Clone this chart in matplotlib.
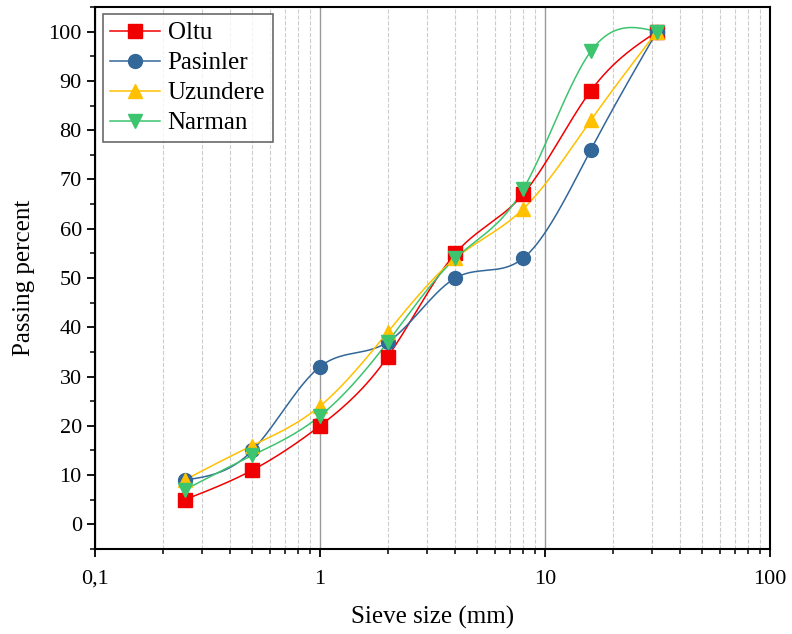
import numpy as np
import matplotlib.pyplot as plt
from matplotlib.ticker import FuncFormatter, MultipleLocator, LogLocator, NullFormatter

# sieve sizes (mm) and passing percent per site
sieve = [0.25, 0.5, 1, 2, 4, 8, 16, 31.5]
oltu = [5, 11, 20, 34, 55, 67, 88, 100]
pasinler = [9, 15, 32, 37, 50, 54, 76, 100]
uzundere = [9, 16, 24, 39, 54, 64, 82, 100]
narman = [7, 14, 22, 37, 54, 68, 96, 100]

names = ['Oltu', 'Pasinler', 'Uzundere', 'Narman']
colors = ['#f00000', '#336699', '#ffc000', '#3cc46e']
markers = ['s', 'o', '^', 'v']


def natural_spline(x, y, n=300):
    # natural cubic spline through the points (x in log space)
    x = np.asarray(x, float)
    y = np.asarray(y, float)
    k = len(x)
    h = np.diff(x)
    A = np.zeros((k, k))
    b = np.zeros(k)
    A[0, 0] = A[-1, -1] = 1
    for i in range(1, k - 1):
        A[i, i - 1] = h[i - 1]
        A[i, i] = 2 * (h[i - 1] + h[i])
        A[i, i + 1] = h[i]
        b[i] = 6 * ((y[i + 1] - y[i]) / h[i] - (y[i] - y[i - 1]) / h[i - 1])
    M = np.linalg.solve(A, b)
    xs = np.linspace(x[0], x[-1], n)
    idx = np.clip(np.searchsorted(x, xs) - 1, 0, k - 2)
    x0, x1 = x[idx], x[idx + 1]
    hh = x1 - x0
    ys = (M[idx] * (x1 - xs) ** 3 / (6 * hh) + M[idx + 1] * (xs - x0) ** 3 / (6 * hh)
          + (y[idx] / hh - M[idx] * hh / 6) * (x1 - xs)
          + (y[idx + 1] / hh - M[idx + 1] * hh / 6) * (xs - x0))
    return xs, ys


plt.rcParams['font.family'] = 'Liberation Serif'
plt.rcParams['font.size'] = 16

fig = plt.figure(figsize=(7.92, 6.34), dpi=100)
ax = fig.add_axes([0.12, 0.134, 0.852, 0.855])

lx = np.log10(sieve)
for vals, name, c, m in zip([oltu, pasinler, uzundere, narman], names, colors, markers):
    xs, ys = natural_spline(lx, vals)
    ax.plot(10 ** xs, ys, color=c, lw=1.1, zorder=2)
    ax.plot(sieve, vals, linestyle='none', marker=m, color=c, ms=10, zorder=3)
    ax.plot([], [], color=c, lw=1.1, marker=m, ms=10, label=name)

ax.set_xscale('log')
ax.set_xlim(0.1, 100)
ax.set_ylim(-5, 105)
ax.xaxis.set_major_locator(LogLocator(base=10))
ax.xaxis.set_minor_locator(LogLocator(base=10, subs=np.arange(2, 10)))
ax.xaxis.set_minor_formatter(NullFormatter())
ax.xaxis.set_major_formatter(FuncFormatter(lambda v, p: ('%g' % v).replace('.', ',')))
ax.yaxis.set_major_locator(MultipleLocator(10))
ax.yaxis.set_minor_locator(MultipleLocator(5))
ax.set_yticks(range(0, 101, 10))

ax.grid(axis='x', which='major', color='#999999', lw=1)
ax.grid(axis='x', which='minor', color='#cccccc', ls='--', lw=0.8)
ax.set_axisbelow(True)

ax.tick_params(which='major', direction='out', length=6, width=1.3, labelsize=16)
ax.tick_params(axis='x', which='major', pad=9)
ax.tick_params(which='minor', direction='out', length=3.5, width=1.1)
for s in ax.spines.values():
    s.set_linewidth(1.5)

ax.set_xlabel('Sieve size (mm)', fontsize=18, labelpad=12)
ax.set_ylabel('Passing percent', fontsize=18, labelpad=10)

leg = ax.legend(loc='upper left', fontsize=18, frameon=True, fancybox=False,
                edgecolor='#444444', handlelength=2.0, borderaxespad=0.3,
                labelspacing=0.3, handletextpad=0.3, borderpad=0.3)
leg.get_frame().set_linewidth(1.2)

fig.savefig('out.png', dpi=100)
